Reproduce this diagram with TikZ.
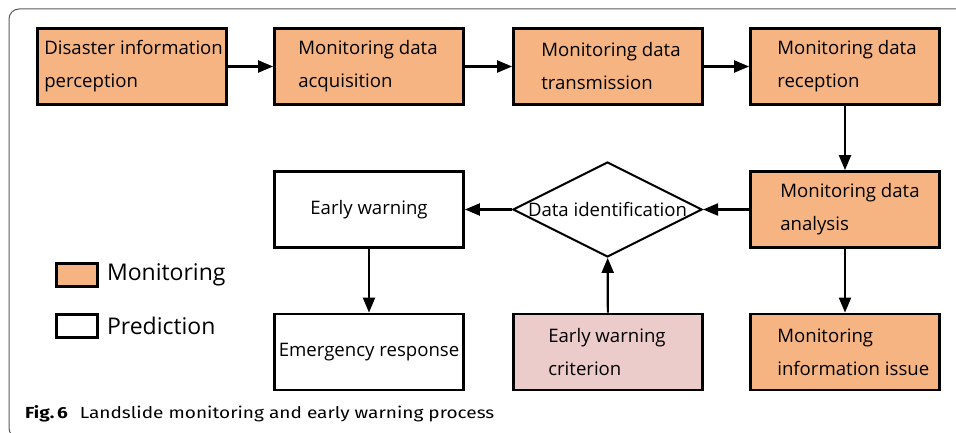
\documentclass[tikz,border=0pt]{standalone}
\usepackage{fontspec}
\usepackage{tikz}
\usetikzlibrary{positioning}
\usetikzlibrary{arrows.meta}
\usetikzlibrary{shapes.geometric}
\setmainfont{Open Sans}
\newfontfamily\capfont[FakeStretch=1.19]{Fira Sans}
\definecolor{monorange}{HTML}{F6B482}
\definecolor{critpink}{HTML}{ECCBCB}
\definecolor{framegray}{HTML}{5A5A5A}

\tikzset{
  mon/.style={draw, line width=2.8pt, fill=monorange, minimum width=189pt, minimum height=76pt, inner sep=0pt},
  pred/.style={mon, fill=white, font=\fontsize{18.6}{33}\selectfont},
  crit/.style={mon, fill=critpink},
  intext/.style={anchor=west, align=left, inner sep=0pt, font=\fontsize{18.6}{33}\selectfont},
  legbox/.style={draw, line width=2.6pt, minimum width=41pt, minimum height=23pt, inner sep=0pt},
  legtext/.style={anchor=west, inner sep=0pt, font=\fontsize{23}{28}\selectfont},
  link/.style={line width=2.2pt, -{Triangle[length=15pt,width=12pt]}},
}

\begin{document}
\begin{tikzpicture}[x=1pt, y=-1pt]
    \useasboundingbox (0,0) rectangle (956,433);
    % frame
    \begin{scope}
      \clip (0,0) rectangle (956,433);
      \draw[framegray, line width=1pt, rounded corners=10pt] (9,9) rectangle (990,438);
    \end{scope}

    % monitoring chain
    \node[mon] (perc) at (132,66.5) {};
    \node[mon] (acq) at (369,66.5) {};
    \node[mon] (trans) at (608,66.5) {};
    \node[mon] (recp) at (845,66.5) {};
    \node[mon] (anal) at (845,209.5) {};
    \node[mon] (issue) at (845,352) {};
    \node[intext] (perc-t) at ([xshift=8pt]perc.west) {Disaster information\\perception};
    \node[intext] (acq-t) at ([xshift=25pt]acq.west) {Monitoring data\\acquisition};
    \node[intext] (trans-t) at ([xshift=29pt]trans.west) {Monitoring data\\transmission};
    \node[intext] (recp-t) at ([xshift=28pt]recp.west) {Monitoring data\\reception};
    \node[intext] (anal-t) at ([xshift=31pt]anal.west) {Monitoring data\\analysis};
    \node[intext] (issue-t) at ([xshift=28pt]issue.west) {Monitoring\\information issue};

    % prediction side
    \node[draw, diamond, line width=2pt, fill=white, inner sep=0pt, minimum width=189pt, minimum height=95pt] (ident) at (607.5,209.5) {};
    \node[intext, anchor=center] (ident-t) at (ident.center) {Data identification};
    \node[pred] (warn) at (369,209.5) {Early warning};
    \node[pred] (resp) at (369,352) {\raisebox{5pt}{Emergency response}};
    \node[crit] (crit) at (608,352) {};
    \node[intext] (crit-t) at ([xshift=36pt]crit.west) {Early warning\\criterion};

    % flow
    \draw[link] (perc) -- (acq);
    \draw[link] (acq) -- (trans);
    \draw[link] (trans) -- (recp);
    \draw[link] (recp) -- (anal);
    \draw[link] (anal) -- (issue);
    \draw[link] (anal) -- (ident);
    \draw[link] (ident) -- (warn);
    \draw[link] (crit) -- (ident);
    \draw[link] (warn) -- (resp);

    % legend
    \node[legbox, fill=monorange] (leg-mon) at (77,275) {};
    \node[legbox, fill=white] (leg-pred) at (77,326) {};
    \node[legtext] (leg-mon-t) at ([xshift=8pt]leg-mon.east) {Monitoring};
    \node[legtext] (leg-pred-t) at ([xshift=8pt]leg-pred.east) {Prediction};

    % caption
    \node[anchor=base west, inner sep=0pt, font=\capfont\fontsize{16}{18}\selectfont] (cap) at (25,418)
      {\textbf{Fig.\,6}\hspace{12pt}Landslide monitoring and early warning process};
\end{tikzpicture}
\end{document}
